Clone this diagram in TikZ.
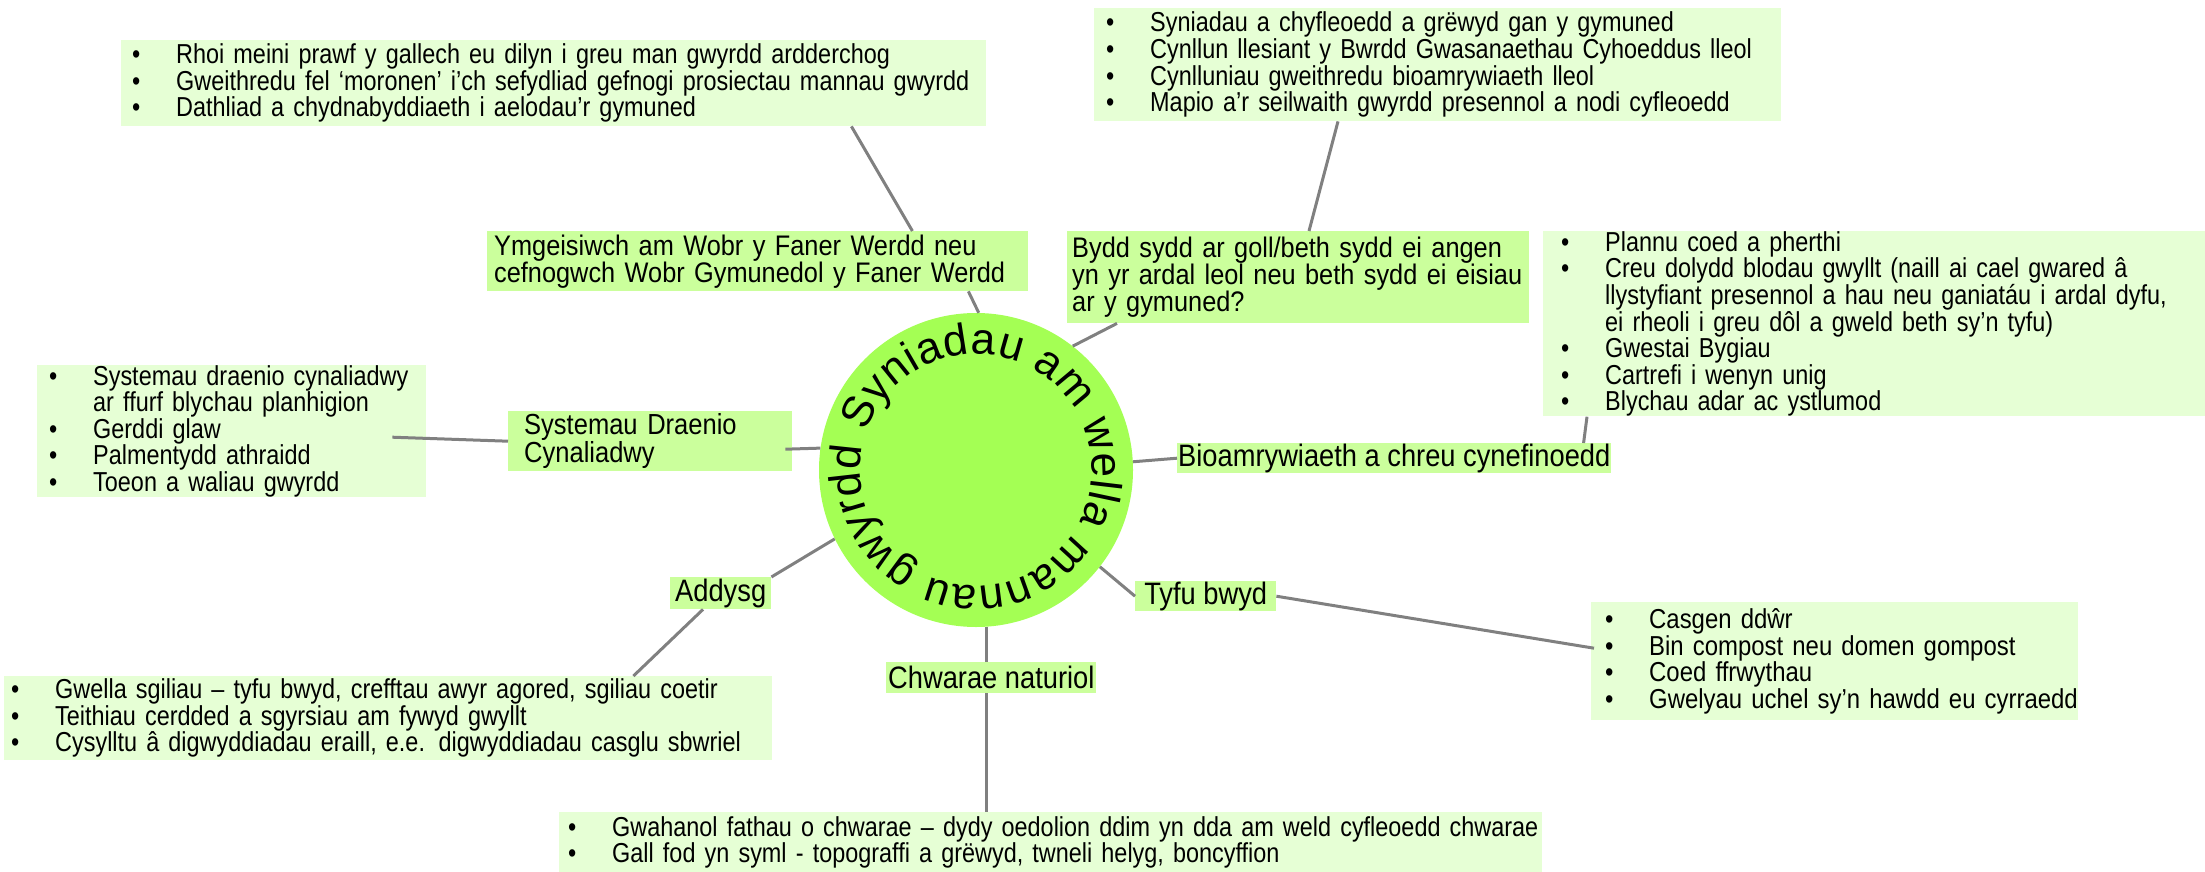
\documentclass[tikz,border=0pt]{standalone}
\usepackage{fontspec}
\setmainfont{Liberation Sans}
\newfontfamily\leaffont[FakeStretch=0.855]{Liberation Sans}
\newfontfamily\wideleaffont[FakeStretch=0.873]{Liberation Sans}
\newfontfamily\topicfont[FakeStretch=0.895]{Liberation Sans}
\newfontfamily\tagfont[FakeStretch=0.88]{Liberation Sans}
\usetikzlibrary{calc,decorations.text}

\definecolor{hubgreen}{HTML}{A4FF54}
\definecolor{topicgreen}{HTML}{CBFF9C}
\definecolor{leafgreen}{HTML}{E6FFD5}
\definecolor{spokegray}{HTML}{808080}

\newcommand{\leafitem}[1]{\mbox{\makebox[44pt][l]{\textbullet}#1}}
\newcommand{\leafcont}[1]{\mbox{\hspace*{44pt}#1}}

\tikzset{
  hub/.style={circle, fill=hubgreen, minimum size=314pt, inner sep=0pt},
  leaf/.style={fill=leafgreen, anchor=north west, align=left, inner ysep=0pt, font=\leaffont\fontsize{27.4}{24}\selectfont},
  topic/.style={fill=topicgreen, anchor=north west, align=left, inner ysep=0pt, font=\topicfont\fontsize{28.3}{27}\selectfont},
  tag/.style={topic, font=\tagfont\fontsize{31}{27}\selectfont},
  spoke/.style={draw=spokegray, line width=3pt},
}

\begin{document}
\begin{tikzpicture}[x=1pt,y=-1pt]
\useasboundingbox (0,0) rectangle (2205,872);

\node[hub] (hub) at (976,470) {};
\path[decorate, decoration={text along path, text align={fit to path},
  text={|\fontsize{44}{44}\selectfont|Syniadau am wella mannau gwyrdd}}]
  ($(hub.center)+(199:116)$) arc[start angle=199, end angle=552, radius=116];

\node[leaf, inner xsep=11pt, text width=843pt, minimum height=86pt] (leafA) at (121,40)
  {\leafitem{Rhoi meini prawf y gallech eu dilyn i greu man gwyrdd ardderchog}\\
   \leafitem{Gweithredu fel ‘moronen’ i’ch sefydliad gefnogi prosiectau mannau gwyrdd}\\
   \leafitem{Dathliad a chydnabyddiaeth i aelodau’r gymuned}};
\node[topic, inner xsep=7pt, text width=527pt, minimum height=60pt] (topicA) at (487,231)
  {\mbox{Ymgeisiwch am Wobr y Faner Werdd neu}\\\mbox{cefnogwch Wobr Gymunedol y Faner Werdd}};

\node[leaf, inner xsep=12pt, text width=663pt, minimum height=113pt] (leafB) at (1094,8)
  {\leafitem{Syniadau a chyfleoedd a grëwyd gan y gymuned}\\
   \leafitem{Cynllun llesiant y Bwrdd Gwasanaethau Cyhoeddus lleol}\\
   \leafitem{Cynlluniau gweithredu bioamrywiaeth lleol}\\
   \leafitem{Mapio a’r seilwaith gwyrdd presennol a nodi cyfleoedd}};
\node[topic, inner xsep=5pt, text width=452pt, minimum height=92pt] (topicB) at (1067,231)
  {\mbox{Bydd sydd ar goll/beth sydd ei angen}\\\mbox{yn yr ardal leol neu beth sydd ei eisiau}\\ar y gymuned?};

\node[leaf, inner xsep=18pt, text width=626pt, minimum height=185pt] (leafC) at (1543,231)
  {\leafitem{Plannu coed a pherthi}\\
   \leafitem{Creu dolydd blodau gwyllt (naill ai cael gwared â}\\
   \leafcont{llystyfiant presennol a hau neu ganiatáu i ardal dyfu,}\\
   \leafcont{ei rheoli i greu dôl a gweld beth sy’n tyfu)}\\
   \leafitem{Gwestai Bygiau}\\
   \leafitem{Cartrefi i wenyn unig}\\
   \leafitem{Blychau adar ac ystlumod}};
\node[tag, inner xsep=1pt, minimum width=431pt, minimum height=30pt] (topicC) at (1177,443)
  {Bioamrywiaeth a chreu cynefinoedd};

\node[leaf, inner xsep=12pt, text width=365pt, minimum height=132pt] (leafD) at (37,365)
  {\leafitem{Systemau draenio cynaliadwy}\\
   \leafcont{ar ffurf blychau planhigion}\\
   \leafitem{Gerddi glaw}\\
   \leafitem{Palmentydd athraidd}\\
   \leafitem{Toeon a waliau gwyrdd}};
\node[topic, font=\tagfont\fontsize{29}{27}\selectfont, inner xsep=16pt, text width=252pt, minimum height=60pt] (topicD) at (508,411)
  {Systemau Draenio\\Cynaliadwy};

\node[tag, minimum width=101pt, minimum height=32pt] (topicE) at (670,577) {Addysg};
\node[leaf, inner xsep=7pt, text width=754pt, minimum height=84pt] (leafE) at (4,676)
  {\leafitem{Gwella sgiliau – tyfu bwyd, crefftau awyr agored, sgiliau coetir}\\
   \leafitem{Teithiau cerdded a sgyrsiau am fywyd gwyllt}\\
   \leafitem{Cysylltu â digwyddiadau eraill, e.e. digwyddiadau casglu sbwriel}};

\node[tag, inner xsep=2pt, minimum width=209pt, minimum height=31pt] (topicF) at (886,662) {Chwarae naturiol};
\node[leaf, inner xsep=9pt, text width=965pt, minimum height=60pt] (leafF) at (559,812)
  {\leafitem{Gwahanol fathau o chwarae – dydy oedolion ddim yn dda am weld cyfleoedd chwarae}\\
   \leafitem{Gall fod yn syml - topograffi a grëwyd, twneli helyg, boncyffion}};

\node[tag, minimum width=141pt, minimum height=30pt] (topicG) at (1135,581) {Tyfu bwyd};
\node[leaf, font=\wideleaffont\fontsize{27.4}{24}\selectfont, inner xsep=14pt, text width=459pt, minimum height=118pt] (leafG) at (1591,602)
  {\leafitem{Casgen ddŵr}\\
   \leafitem{Bin compost neu domen gompost}\\
   \leafitem{Coed ffrwythau}\\
   \leafitem{Gwelyau uchel sy’n hawdd eu cyrraedd}};

\draw[spoke] ($(leafA.south east)+(-135,0)$) -- ($(topicA.north east)+(-116,0)$);
\draw[spoke] ($(topicA.south east)+(-60,0)$) -- (hub.89);
\draw[spoke] ($(leafB.south west)+(244,0)$) -- ($(topicB.north west)+(242,0)$);
\draw[spoke] ($(topicB.south west)+(50,0)$) -- (hub.52);
\draw[spoke] ($(leafC.south west)+(44,0)$) -- ($(topicC.north east)+(-28,0)$);
\draw[spoke] (topicC.west) -- (hub.3);
\draw[spoke] ($(leafD.east)+(-34,6)$) -- (topicD.west);
\draw[spoke] ($(topicD.east)+(-7,8)$) -- (hub.172);
\draw[spoke] (topicE.north east) -- (hub.206);
\draw[spoke] ($(topicE.south west)+(33,0)$) -- ($(leafE.north east)+(-139,0)$);
\draw[spoke] (hub.274) -- (hub.274 |- topicF.north);
\draw[spoke] (hub.274 |- topicF.south) -- (hub.274 |- leafF.north);
\draw[spoke] (topicG.west) -- (hub.322);
\draw[spoke] (topicG.east) -- ($(leafG.west)+(3,-13)$);
\end{tikzpicture}
\end{document}
